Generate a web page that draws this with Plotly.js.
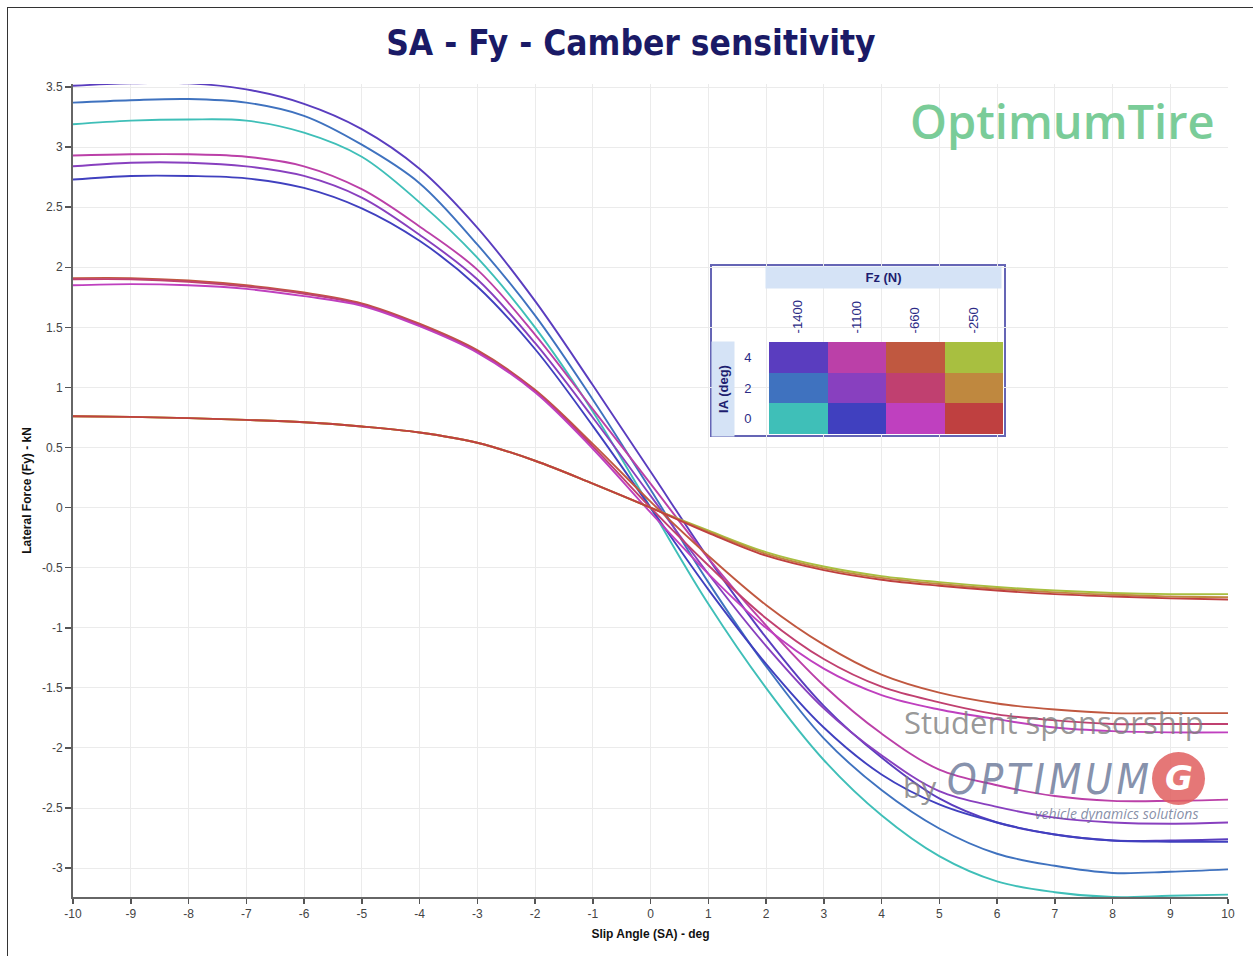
<!DOCTYPE html>
<html>
<head>
<meta charset="utf-8">
<script src="https://cdn.plot.ly/plotly-3.0.1.min.js"></script>
<style>
  html, body { margin: 0; padding: 0; background: #fff; }
  #wrap { position: relative; width: 1253px; height: 956px; overflow: hidden; }
  #chart { position: absolute; left: 0; top: 0; width: 1253px; height: 956px; }
  #frame { position: absolute; left: 7px; top: 7px; width: 1300px; height: 1000px;
           border-left: 1.5px solid #333; border-top: 1.5px solid #333; pointer-events: none; }
</style>
</head>
<body>
<div id="wrap">
  <div id="chart"></div>
  <div id="frame"></div>
</div>
<script>
// ---------------- DATA ----------------
const slipAngle = [-10,-9,-8,-7,-6,-5,-4,-3,-2,-1,0,1,2,3,4,5,6,7,8,9,10];

const fz1400_ia4 = [3.51,3.53,3.53,3.48,3.36,3.15,2.82,2.33,1.72,1.02,0.30,-0.42,-1.08,-1.65,-2.08,-2.42,-2.62,-2.72,-2.77,-2.77,-2.76];
const fz1400_ia2 = [3.37,3.39,3.40,3.37,3.26,3.02,2.70,2.19,1.60,0.90,0.15,-0.62,-1.32,-1.92,-2.35,-2.67,-2.88,-2.98,-3.04,-3.03,-3.01];
const fz1400_ia0 = [3.19,3.22,3.23,3.22,3.12,2.92,2.54,2.08,1.50,0.80,0.00,-0.80,-1.50,-2.10,-2.56,-2.90,-3.11,-3.20,-3.24,-3.23,-3.22];

const fz1100_ia4 = [2.93,2.94,2.94,2.92,2.84,2.65,2.34,1.98,1.44,0.82,0.20,-0.42,-0.98,-1.48,-1.88,-2.18,-2.31,-2.40,-2.44,-2.44,-2.43];
const fz1100_ia2 = [2.84,2.87,2.87,2.84,2.76,2.58,2.27,1.90,1.37,0.75,0.10,-0.55,-1.15,-1.67,-2.06,-2.36,-2.49,-2.58,-2.62,-2.63,-2.62];
const fz1100_ia0 = [2.73,2.76,2.76,2.74,2.66,2.49,2.22,1.84,1.32,0.68,0.00,-0.68,-1.30,-1.83,-2.22,-2.47,-2.62,-2.72,-2.77,-2.78,-2.78];

const fz660_ia4 = [1.91,1.91,1.89,1.85,1.79,1.70,1.53,1.31,0.98,0.53,0.05,-0.40,-0.81,-1.14,-1.39,-1.54,-1.63,-1.68,-1.71,-1.71,-1.71];
const fz660_ia2 = [1.90,1.90,1.88,1.84,1.78,1.69,1.52,1.30,0.97,0.51,0.00,-0.48,-0.92,-1.26,-1.49,-1.62,-1.72,-1.77,-1.80,-1.80,-1.80];
const fz660_ia0 = [1.85,1.86,1.85,1.82,1.76,1.68,1.51,1.29,0.96,0.49,-0.04,-0.55,-1.00,-1.34,-1.56,-1.68,-1.76,-1.83,-1.86,-1.87,-1.87];

const fz250_ia4 = [0.76,0.755,0.745,0.73,0.71,0.675,0.625,0.54,0.39,0.20,0.00,-0.19,-0.37,-0.49,-0.57,-0.62,-0.66,-0.69,-0.71,-0.72,-0.72];
const fz250_ia2 = [0.76,0.755,0.745,0.73,0.71,0.675,0.625,0.54,0.39,0.20,0.00,-0.20,-0.385,-0.505,-0.585,-0.635,-0.675,-0.705,-0.725,-0.74,-0.745];
const fz250_ia0 = [0.76,0.755,0.745,0.73,0.71,0.675,0.625,0.54,0.39,0.20,0.00,-0.21,-0.40,-0.52,-0.60,-0.65,-0.69,-0.72,-0.74,-0.755,-0.765];

const fzLabels = ['-1400','-1100','-660','-250'];
const iaLabels = ['4','2','0'];
const xTickVals = [-10,-9,-8,-7,-6,-5,-4,-3,-2,-1,0,1,2,3,4,5,6,7,8,9,10];
const yTickVals = [-3,-2.5,-2,-1.5,-1,-0.5,0,0.5,1,1.5,2,2.5,3,3.5];

// ---------------- STYLE ----------------
// rows: IA 4, IA 2, IA 0 ; columns: Fz -1400, -1100, -660, -250
const seriesGrid = [
  [fz1400_ia4, fz1100_ia4, fz660_ia4, fz250_ia4],
  [fz1400_ia2, fz1100_ia2, fz660_ia2, fz250_ia2],
  [fz1400_ia0, fz1100_ia0, fz660_ia0, fz250_ia0]
];
const colorGrid = [
  ['#5a3dbf', '#bb40a8', '#c05840', '#a8bf40'],
  ['#3f72bf', '#8840bf', '#c04070', '#bf883f'],
  ['#3fbfb8', '#4040bf', '#bf40bf', '#bf4040']
];

const traces = [];
for (let c = 0; c < fzLabels.length; c++) {
  for (let r = 0; r < iaLabels.length; r++) {
    traces.push({
      type: 'scatter', mode: 'lines',
      x: slipAngle, y: seriesGrid[r][c],
      name: 'Fz ' + fzLabels[c] + ' / IA ' + iaLabels[r],
      line: { color: colorGrid[r][c], width: 1.9, shape: 'spline', smoothing: 1 },
      hoverinfo: 'skip', showlegend: false, xaxis: 'x', yaxis: 'y'
    });
  }
}

// legend table as heatmap
const flatColors = [].concat(...colorGrid);
const colorscale = flatColors.map((col, i) => [i / (flatColors.length - 1), col]);
const zRows = iaLabels.map((ia, r) => fzLabels.map((fz, c) => r * fzLabels.length + c));
traces.push({
  type: 'heatmap', x: fzLabels, y: iaLabels, z: zRows,
  colorscale: colorscale, zmin: 0, zmax: flatColors.length - 1,
  showscale: false, hoverinfo: 'skip', xaxis: 'x2', yaxis: 'y2'
});

// layout helpers (pixel -> paper)
const L = 73, R = 1228, T = 84, B = 897;
const px = v => (v - L) / (R - L);
const py = v => (B - v) / (B - T);

const navy = '#1e1e70';
const hs = '\u200A';
const layout = {
  width: 1253, height: 956,
  margin: { l: L, r: 1253 - R, t: T, b: 956 - B },
  paper_bgcolor: 'rgba(0,0,0,0)', plot_bgcolor: '#ffffff',
  showlegend: false, hovermode: false,
  title: {
    text: 'SA - Fy - Camber sensitivity',
    font: { family: 'DejaVu Sans Condensed, DejaVu Sans, sans-serif', size: 35, weight: 'bold', color: '#1a1a66' },
    x: 0.5035, xanchor: 'center', y: 1 - 43 / 956, yanchor: 'middle', xref: 'container', yref: 'container'
  },
  xaxis: {
    range: [-10, 10], tickvals: xTickVals, ticktext: xTickVals.map(String),
    showgrid: true, gridcolor: '#ebebeb', gridwidth: 1, zeroline: false,
    showline: true, linecolor: '#666', linewidth: 2,
    ticks: 'outside', ticklen: 5, tickcolor: '#555', tickwidth: 1.5,
    tickfont: { family: 'Liberation Sans, Arial, sans-serif', size: 12, color: '#444' },
    title: { text: 'Slip Angle (SA) - deg', standoff: 9,
             font: { family: 'Liberation Sans, Arial, sans-serif', size: 12, weight: 'bold', color: '#111' } },
    automargin: false, fixedrange: true
  },
  yaxis: {
    range: [-3.24, 3.525], tickvals: yTickVals, ticktext: yTickVals.map(String),
    showgrid: true, gridcolor: '#ebebeb', gridwidth: 1, zeroline: false,
    showline: true, linecolor: '#666', linewidth: 2,
    ticks: 'outside', ticklen: 6, tickcolor: '#555', tickwidth: 1.5,
    tickfont: { family: 'Liberation Sans, Arial, sans-serif', size: 12, color: '#444' },
    title: { text: 'Lateral Force (Fy) - kN', standoff: 8,
             font: { family: 'Liberation Sans, Arial, sans-serif', size: 12, weight: 'bold', color: '#111' } },
    automargin: false, fixedrange: true
  },
  xaxis2: {
    domain: [px(769), px(1003)], anchor: 'y2', side: 'top', type: 'category',
    showgrid: false, zeroline: false, showline: false,
    ticks: 'outside', ticklen: 5, tickcolor: 'rgba(0,0,0,0)', tickangle: -90,
    tickfont: { family: 'Liberation Sans, Arial, sans-serif', size: 13, color: '#2b2b85' },
    automargin: false, fixedrange: true
  },
  yaxis2: {
    domain: [py(434), py(342)], anchor: 'x2', type: 'category',
    categoryorder: 'array', categoryarray: ['0', '2', '4'],
    showgrid: false, zeroline: false, showline: false,
    ticks: 'outside', ticklen: 14, tickcolor: 'rgba(0,0,0,0)',
    tickfont: { family: 'Liberation Sans, Arial, sans-serif', size: 13, color: '#2b2b85' },
    automargin: false, fixedrange: true
  },
  shapes: [
    { type: 'rect', xref: 'paper', yref: 'paper', x0: px(711), x1: px(1005), y0: py(436), y1: py(265),
      fillcolor: '#ffffff', line: { color: '#6565b5', width: 2 }, layer: 'between' },
    { type: 'circle', xref: 'paper', yref: 'paper', x0: px(1152), x1: px(1205), y0: py(805), y1: py(752),
      fillcolor: 'rgba(225,95,95,0.85)', line: { width: 0 }, layer: 'above' }
  ],
  annotations: [
    { text: '<b>Fz (N)</b>', xref: 'paper', yref: 'paper', x: px(883.5), y: py(277.5),
      xanchor: 'center', yanchor: 'middle', showarrow: false, width: 233, height: 19,
      bgcolor: '#d5e3f6', font: { family: 'Liberation Sans, Arial, sans-serif', size: 13, color: navy } },
    { text: '<b>IA (deg)</b>', xref: 'paper', yref: 'paper', x: px(723), y: py(389),
      xanchor: 'center', yanchor: 'middle', showarrow: false, textangle: -90, width: 92, height: 20,
      bgcolor: '#d5e3f6', font: { family: 'Liberation Sans, Arial, sans-serif', size: 13, color: navy } },
    { text: 'OptimumTire', xref: 'paper', yref: 'paper', x: px(1062), y: py(121),
      xanchor: 'center', yanchor: 'middle', showarrow: false,
      font: { family: 'Open Sans, sans-serif', size: 47, weight: 600, color: '#7acc98' } },
    { text: 'Student sponsorship', xref: 'paper', yref: 'paper', x: px(1054), y: py(722),
      xanchor: 'center', yanchor: 'middle', showarrow: false,
      font: { family: 'Open Sans, sans-serif', size: 31, color: 'rgba(125,125,125,0.8)' } },
    { text: 'by', xref: 'paper', yref: 'paper', x: px(920), y: py(786),
      xanchor: 'center', yanchor: 'middle', showarrow: false,
      font: { family: 'Open Sans, sans-serif', size: 30, color: 'rgba(125,125,125,0.8)' } },
    { text: '<i>O' + hs + 'P' + hs + 'T' + hs + 'I' + hs + 'M' + hs + 'U' + hs + 'M</i>', xref: 'paper', yref: 'paper',
      x: px(1048), y: py(779), xanchor: 'center', yanchor: 'middle', showarrow: false,
      font: { family: 'DejaVu Sans Condensed, DejaVu Sans, sans-serif', size: 42, color: 'rgba(95,110,145,0.75)' } },
    { text: '<b><i>G</i></b>', xref: 'paper', yref: 'paper', x: px(1179), y: py(778),
      xanchor: 'center', yanchor: 'middle', showarrow: false,
      font: { family: 'DejaVu Sans, sans-serif', size: 34, color: '#ffffff' } },
    { text: '<i>vehicle dynamics solutions</i>', xref: 'paper', yref: 'paper', x: px(1116), y: py(813),
      xanchor: 'center', yanchor: 'middle', showarrow: false,
      font: { family: 'Open Sans, sans-serif', size: 14, color: 'rgba(105,115,145,0.8)' } }
  ]
};

Plotly.newPlot('chart', traces, layout, { staticPlot: true, displayModeBar: false });
</script>
</body>
</html>
